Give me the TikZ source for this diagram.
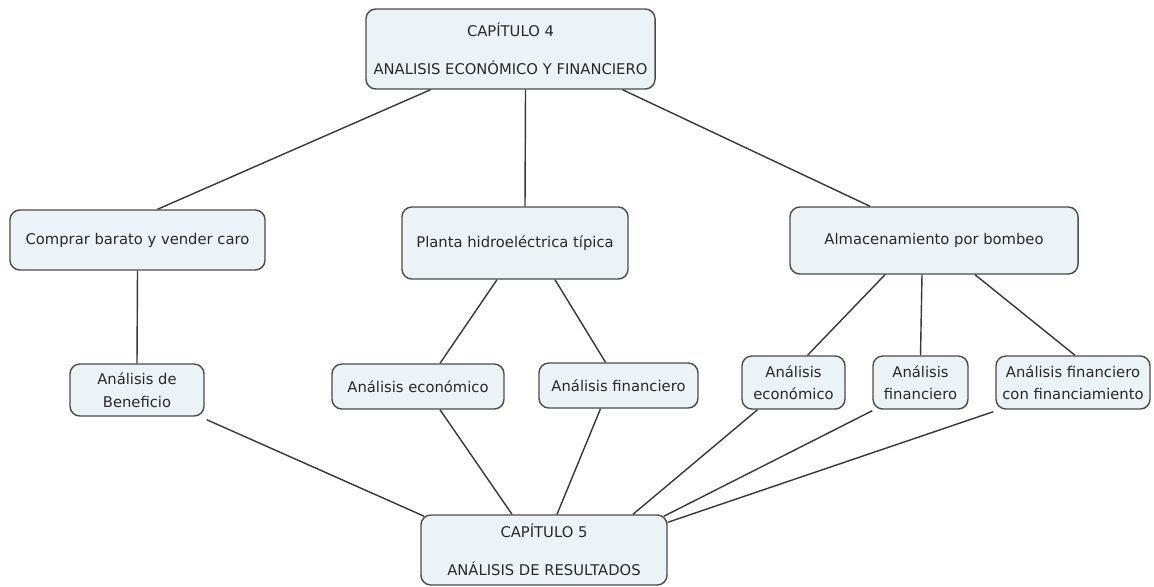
\documentclass[tikz,border=0pt]{standalone}
\usepackage{fontspec}
\setmainfont{DejaVu Sans}
\usetikzlibrary{positioning,calc}
\definecolor{BoxFill}{RGB}{236,243,246}
\definecolor{BoxLine}{RGB}{75,75,75}
\definecolor{LinkLine}{RGB}{55,55,55}
\definecolor{TextGray}{RGB}{40,40,40}
\tikzset{
  topic/.style={draw=BoxLine,fill=BoxFill,rounded corners=7pt,line width=1pt,inner sep=0pt,align=center,text=TextGray,font=\fontsize{10.5}{16}\selectfont},
  link/.style={draw=LinkLine,line width=1pt}
}

\begin{document}
\begin{tikzpicture}[x=0.025cm,y=-0.025cm]
\useasboundingbox (0,0) rectangle (1154,586);

\node[topic,minimum width=7.225cm,minimum height=2cm] (cap4) at (510.5,49) {CAPÍTULO 4\\[11pt]ANALISIS ECONÓMICO Y FINANCIERO};
\node[topic,minimum width=6.375cm,minimum height=1.5cm] (comprar) at (137.5,240) {Comprar barato y vender caro};
\node[topic,minimum width=5.65cm,minimum height=1.8cm] (planta) at (515,243) {Planta hidroeléctrica típica};
\node[topic,minimum width=7.2cm,minimum height=1.675cm] (almac) at (934,240.5) {Almacenamiento por bombeo};
\node[topic,minimum width=3.35cm,minimum height=1.3cm] (benef) at (137,390) {Análisis de\\Beneficio};
\node[topic,minimum width=4.3cm,minimum height=1.125cm] (econA) at (418,386.5) {Análisis económico};
\node[topic,minimum width=3.975cm,minimum height=1.125cm] (finA) at (618.5,385.5) {Análisis financiero};
\node[topic,minimum width=2.575cm,minimum height=1.325cm] (econB) at (793.5,382.5) {Análisis\\económico};
\node[topic,minimum width=2.375cm,minimum height=1.325cm] (finB) at (920.5,382.5) {Análisis\\financiero};
\node[topic,minimum width=3.85cm,minimum height=1.325cm] (finC) at (1073,382.5) {Análisis financiero\\con financiamiento};
\node[topic,minimum width=6.15cm,minimum height=1.75cm] (cap5) at (544,550) {CAPÍTULO 5\\[11pt]ANÁLISIS DE RESULTADOS};

% capitulo 4 hacia los temas
\draw[link] ($(cap4.south)+(-80,0)$) -- ($(comprar.north)+(20,0)$);
\draw[link] ($(cap4.south)+(15,0)$) -- ($(planta.north)+(10,0)$);
\draw[link] ($(cap4.south)+(112,0)$) -- ($(almac.north)+(-64,0)$);

% temas hacia los analisis
\draw[link] (comprar.south) -- (benef.north);
\draw[link] ($(planta.south)+(-18,0)$) -- ($(econA.north)+(22,0)$);
\draw[link] ($(planta.south)+(40,0)$) -- ($(finA.north)+(-13,0)$);
\draw[link] ($(almac.south)+(-49,0)$) -- ($(econB.north)+(14,0)$);
\draw[link] ($(almac.south)+(-12,0)$) -- (finB.north);
\draw[link] ($(almac.south)+(41,0)$) -- ($(finC.north)+(2,0)$);

% analisis hacia capitulo 5
\draw[link] ($(benef.south east)+(2,3)$) -- ($(cap5.north west)+(4,2)$);
\draw[link] ($(econA.south)+(22,0)$) -- ($(cap5.north)+(-32,0)$);
\draw[link] ($(finA.south)+(-18,0)$) -- ($(cap5.north)+(13,0)$);
\draw[link] ($(econB.south)+(-36,0)$) -- ($(cap5.north)+(89,0)$);
\draw[link] ($(finB.south west)+(0,1)$) -- ($(cap5.north east)+(-4,2)$);
\draw[link] ($(finC.south west)+(-2,2)$) -- ($(cap5.north east)+(0,8)$);
\end{tikzpicture}
\end{document}
